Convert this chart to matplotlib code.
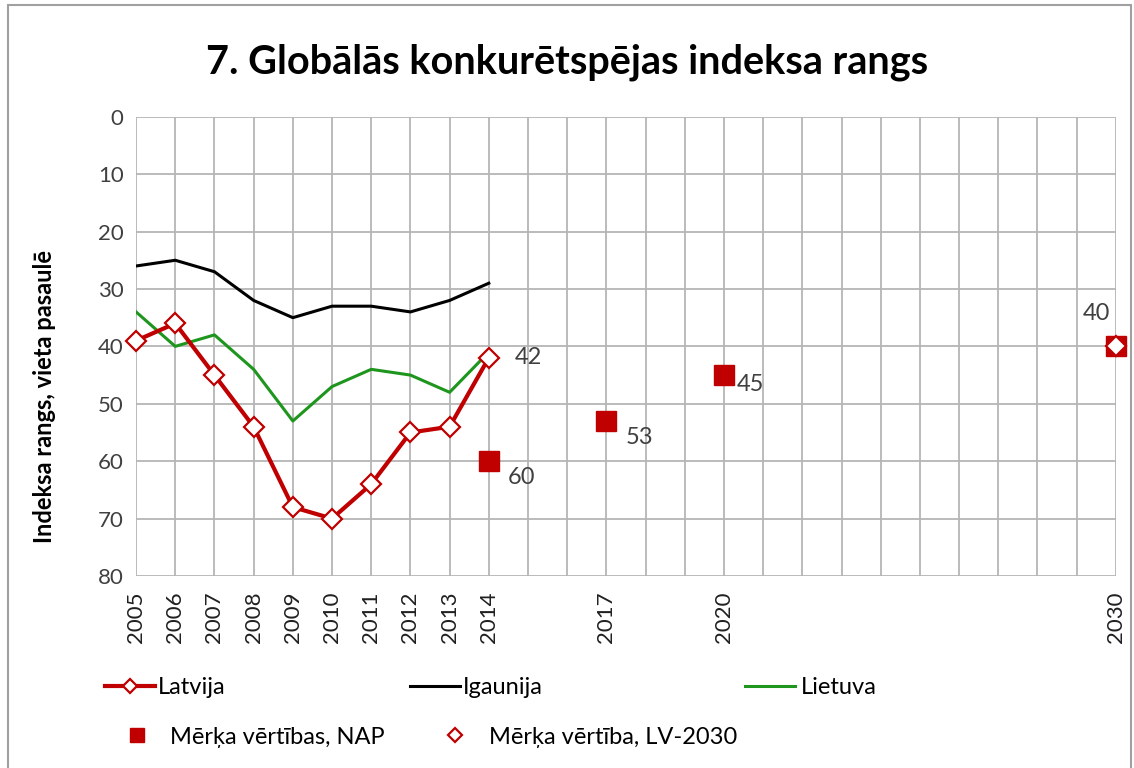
import numpy as np
import matplotlib
matplotlib.use("Agg")
import matplotlib.pyplot as plt
from matplotlib.patches import Rectangle

plt.rcParams['font.family'] = ['Lato', 'DejaVu Sans']

# all category years on the x axis (equally spaced)
all_years = list(range(2005, 2031))
labelled_years = [2005, 2006, 2007, 2008, 2009, 2010, 2011, 2012, 2013, 2014, 2017, 2020, 2030]

hist_years = [2005, 2006, 2007, 2008, 2009, 2010, 2011, 2012, 2013, 2014]
latvija = [39, 36, 45, 54, 68, 70, 64, 55, 54, 42]
igaunija = [26, 25, 27, 32, 35, 33, 33, 34, 32, 29]
lietuva = [34, 40, 38, 44, 53, 47, 44, 45, 48, 41]

nap_years = [2014, 2017, 2020, 2030]
nap_values = [60, 53, 45, 40]

lv2030_years = [2030]
lv2030_values = [40]

red = '#c00000'
txt = '#404040'

def pos(years):
    return [all_years.index(y) for y in years]

fig = plt.figure(figsize=(11.34, 7.68), dpi=100)
fig.patches.append(Rectangle((0.007, -0.01), 0.99, 1.004, transform=fig.transFigure,
                             fill=False, edgecolor='#a0a0a0', linewidth=1.5))
ax = fig.add_axes([0.12, 0.25, 0.864, 0.598])

ln_ig, = ax.plot(pos(hist_years), igaunija, color='black', linewidth=2.2, zorder=3)
ln_lt, = ax.plot(pos(hist_years), lietuva, color='#1e961e', linewidth=2.2, zorder=3)
ln_lv, = ax.plot(pos(hist_years), latvija, color=red, linewidth=3, marker='D', markersize=10,
                 markerfacecolor='white', markeredgecolor=red, markeredgewidth=1.6,
                 zorder=4, clip_on=False)
ln_nap, = ax.plot(pos(nap_years), nap_values, linestyle='none', marker='s', markersize=15,
                  color=red, zorder=5, clip_on=False)
ln_lv30, = ax.plot(pos(lv2030_years), lv2030_values, linestyle='none', marker='D',
                   markersize=10, markerfacecolor='white', markeredgecolor=red,
                   markeredgewidth=1.6, zorder=6, clip_on=False)

# data labels
lab_kw = dict(textcoords='offset points', fontsize=17, color=txt, ha='left', va='center')
ax.annotate(str(latvija[-1]), (pos([2014])[0], latvija[-1]), xytext=(19, 0), **lab_kw)
offsets = [(14, -12), (14, -12), (9, -7), (-24, 24)]
for x, v, off in zip(pos(nap_years), nap_values, offsets):
    ax.annotate(str(v), (x, v), xytext=off, **lab_kw)

ax.set_xlim(0, len(all_years) - 1)
ax.set_ylim(80, 0)
ax.set_yticks(range(0, 81, 10))
ax.set_xticks(range(len(all_years)))
ax.set_xticklabels([str(y) if y in labelled_years else '' for y in all_years],
                   rotation=90, fontsize=16, color='#202020')
ax.tick_params(axis='y', labelsize=16, labelcolor=txt, length=0, pad=9)
ax.tick_params(axis='x', length=0, pad=11)
ax.grid(True, color='#b5b5b5', linewidth=1.3)
for s in ax.spines.values():
    s.set_visible(False)

ax.set_ylabel('Indeksa rangs, vieta pasaulē', fontsize=17, fontweight='bold')
ax.yaxis.set_label_coords(-0.082, 0.39)
fig.text(0.5, 0.919, '7. Globālās konkurētspējas indeksa rangs', fontsize=28.5,
         fontweight='bold', ha='center', va='center')

# legend entries placed like the spreadsheet legend (two rows)
leg_kw = dict(loc='center left', frameon=False, fontsize=17, borderaxespad=0,
              borderpad=0, handlelength=2.1, markerscale=0.7)
entries = [
    (ln_lv, 'Latvija', 105, 688, 0.15),
    (ln_ig, 'Igaunija', 410, 688, 0.15),
    (ln_lt, 'Lietuva', 745, 688, 0.25),
    (ln_nap, 'Mērķa vērtības, NAP', 112, 737, 0.35),
    (ln_lv30, 'Mērķa vērtība, LV-2030', 430, 737, 0.4),
]
for h, lbl, px, py, tp in entries:
    fig.legend([h], [lbl], bbox_to_anchor=(px / 1134, 1 - py / 768),
               handletextpad=tp, **leg_kw)

fig.savefig('out.png', dpi=100)
